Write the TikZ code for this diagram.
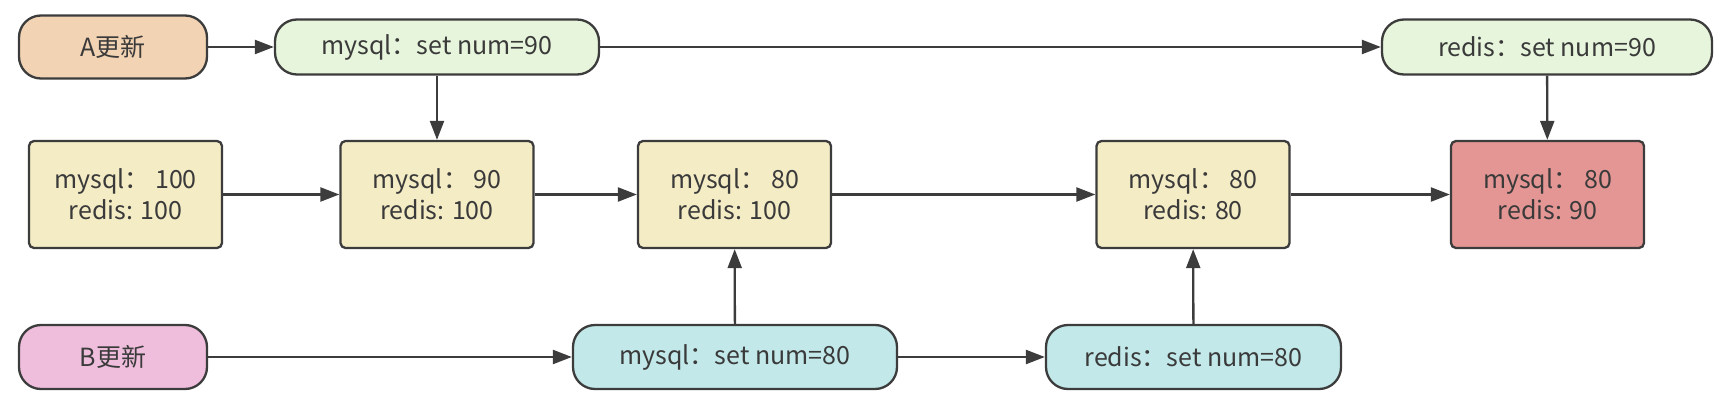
\documentclass[tikz,border=0pt]{standalone}
\usepackage{fontspec}
\setmainfont{Noto Sans CJK SC}
\usetikzlibrary{arrows.meta}
\definecolor{cA}{HTML}{F2D3B4}
\definecolor{cG}{HTML}{E6F5DB}
\definecolor{cY}{HTML}{F4ECC5}
\definecolor{cR}{HTML}{E39694}
\definecolor{cP}{HTML}{EEBEDC}
\definecolor{cC}{HTML}{C2E8E9}
\definecolor{edge}{HTML}{3C3C3C}
\definecolor{txt}{HTML}{3A3A3A}
\tikzset{
  x=1pt,y=-1pt,
  base/.style={draw=edge, line width=2.3pt, text=txt, inner sep=0pt, align=center,
    font=\fontsize{25}{31}\selectfont},
  pill/.style={base, rounded corners=22pt},
  statebox/.style={base, rounded corners=5pt, minimum width=193pt, minimum height=107pt, fill=cY},
  conn/.style={draw=edge, line width=2.3pt, -{Triangle[length=19pt,width=14pt]}}
}
\begin{document}
\begin{tikzpicture}
\useasboundingbox (0,0) rectangle (1724,412);
\node[pill, fill=cA, minimum width=188pt, minimum height=63pt] (A) at (113,47) {A更新};
\node[pill, fill=cG, minimum width=324pt, minimum height=55pt] (m90) at (437,47) {mysql：set num=90};
\node[pill, fill=cG, minimum width=330pt, minimum height=55pt] (r90) at (1547,47) {redis：set num=90};
\node[statebox] (b1) at (125.5,194.5) {mysql：~100\\redis: 100};
\node[statebox] (b2) at (437,194.5) {mysql：~90\\redis: 100};
\node[statebox] (b3) at (734.5,194.5) {mysql：~80\\redis: 100};
\node[statebox] (b4) at (1193,194.5) {mysql：~80\\redis: 80};
\node[statebox, fill=cR] (b5) at (1547.5,194.5) {mysql：~80\\redis: 90};
\node[pill, fill=cP, minimum width=188pt, minimum height=64pt] (B) at (113,357) {B更新};
\node[pill, fill=cC, minimum width=324pt, minimum height=64pt] (m80) at (735,357) {mysql：set num=80};
\node[pill, fill=cC, minimum width=295pt, minimum height=64pt] (r80) at (1193.5,357) {redis：set num=80};
\draw[conn] (A) -- (m90);
\draw[conn] (m90) -- (r90);
\draw[conn] (m90) -- (b2);
\draw[conn] (r90) -- (b5);
\draw[conn] (b1) -- (b2);
\draw[conn] (b2) -- (b3);
\draw[conn] (b3) -- (b4);
\draw[conn] (b4) -- (b5);
\draw[conn] (B) -- (m80);
\draw[conn] (m80) -- (r80);
\draw[conn] (m80) -- (b3);
\draw[conn] (r80) -- (b4);
\end{tikzpicture}
\end{document}
